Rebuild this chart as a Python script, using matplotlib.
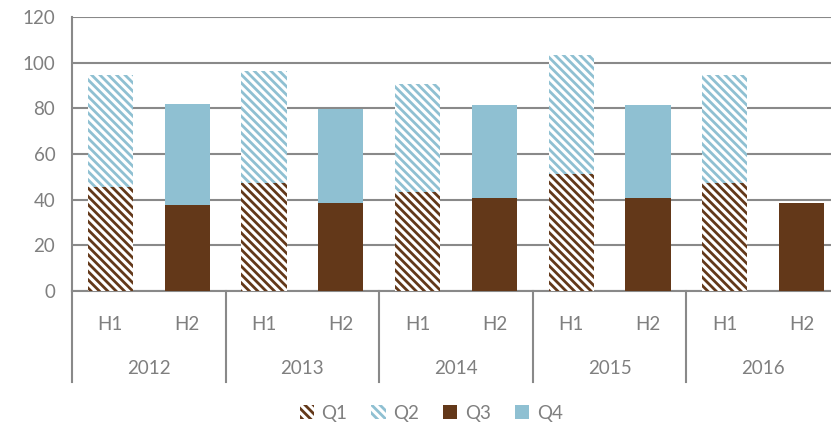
import matplotlib.pyplot as plt
import matplotlib.transforms as mtransforms
import numpy as np
from matplotlib.patches import Patch

plt.rcParams['font.family'] = ['Lato', 'DejaVu Sans']
plt.rcParams['hatch.linewidth'] = 2.0

years = ['2012', '2013', '2014', '2015', '2016']
halves = ['H1', 'H2']
q1 = [45.5, 47.4, 43.5, 51.1, 47.2]
q2 = [49.1, 49.0, 47.3, 52.3, 47.4]
q3 = [37.7, 38.5, 40.9, 40.7, 38.7]
q4 = [44.3, 41.2, 40.6, 40.6, 0.0]

brown = '#633819'
blue = '#8fc0d2'
grey = '#898989'
txt = '#7f7f7f'
hatch = '\\' * 4
fs = 13.5

fig = plt.figure(figsize=(8.31, 4.30), dpi=100)
ax = fig.add_axes([72/831, 1-291/430, 768/831, 274/430])

x1 = np.arange(len(years)) * 2
x2 = x1 + 1
w = 0.59

# H1 bars: hatched Q1 + Q2
ax.bar(x1, q1, w, color='white', edgecolor=brown, hatch=hatch, linewidth=0, zorder=3)
ax.bar(x1, q2, w, bottom=q1, color='white', edgecolor=blue, hatch=hatch, linewidth=0, zorder=3)
# H2 bars: solid Q3 + Q4
ax.bar(x2, q3, w, color=brown, linewidth=0, zorder=3)
ax.bar(x2, q4, w, bottom=q3, color=blue, linewidth=0, zorder=3)

ax.set_xlim(-0.5, 9.5)
ax.set_ylim(0, 120)
ax.set_yticks(range(0, 121, 20))
ax.grid(axis='y', color=grey, linewidth=1.5, zorder=0)
ax.tick_params(axis='y', length=0, pad=12, labelsize=fs, labelcolor=txt)
ax.set_xticks([])
for s in ['top', 'right']:
    ax.spines[s].set_visible(False)
ax.spines['left'].set_color(grey)
ax.spines['left'].set_linewidth(1.5)
ax.spines['bottom'].set_color(grey)
ax.spines['bottom'].set_linewidth(1.5)

# multi-level category axis
trans = mtransforms.blended_transform_factory(ax.transData, ax.transAxes)
depth = -(382 - 291) / 274
for b in np.arange(-0.5, 10, 2):
    ax.plot([b, b], [0, depth], transform=trans, color=grey, linewidth=1.5, clip_on=False)
for i, yr in enumerate(years):
    for j, h in enumerate(halves):
        ax.text(x1[i] + j, -(324 - 291) / 274, h, transform=trans, ha='center', va='center',
                fontsize=fs, color=txt)
    ax.text(x1[i] + 0.5, -(369 - 291) / 274, yr, transform=trans, ha='center', va='center',
            fontsize=fs, color=txt)

handles = [
    Patch(facecolor='white', edgecolor=brown, hatch=hatch, linewidth=0),
    Patch(facecolor='white', edgecolor=blue, hatch=hatch, linewidth=0),
    Patch(facecolor=brown, linewidth=0),
    Patch(facecolor=blue, linewidth=0),
]
fig.legend(handles, ['Q1', 'Q2', 'Q3', 'Q4'], loc='center', bbox_to_anchor=(431/831, 1-413/430),
           ncol=4, frameon=False, fontsize=fs, labelcolor=txt, handlelength=0.75, handleheight=0.75,
           handletextpad=0.4, columnspacing=1.3)

plt.savefig('out.png', dpi=100)
